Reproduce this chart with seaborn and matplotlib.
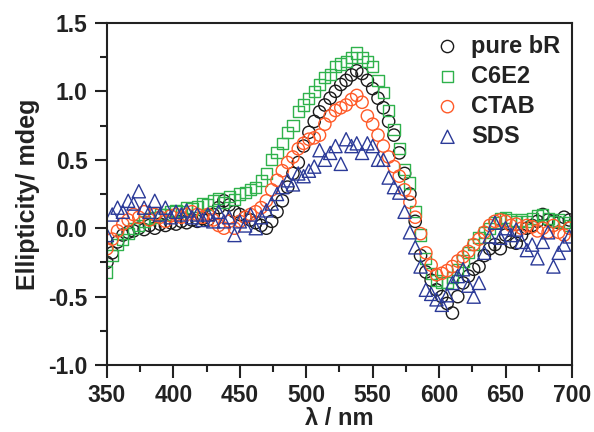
import matplotlib
matplotlib.use("Agg")
import matplotlib.pyplot as plt
import seaborn as sns
from matplotlib.ticker import MultipleLocator

# wavelength grid (nm), every 4 nm
wavelength = list(range(350, 701, 4))

pure_br = [-0.25, -0.18, -0.10, -0.05, -0.03, -0.02, 0.00, -0.01, 0.02, 0.00,
           0.03, 0.02, 0.04, 0.03, 0.05, 0.04, 0.06, 0.05, 0.07, 0.06,
           0.10, 0.15, 0.20, 0.17, 0.12, 0.10, 0.08, 0.06, 0.04, 0.02,
           0.00, 0.05, 0.12, 0.20, 0.30, 0.40, 0.48, 0.60, 0.70, 0.78,
           0.85, 0.90, 0.95, 1.00, 1.05, 1.08, 1.12, 1.15, 1.13, 1.08,
           1.02, 0.95, 0.88, 0.78, 0.68, 0.55, 0.40, 0.25, 0.05, -0.20,
           -0.32, -0.38, -0.45, -0.50, -0.55, -0.62, -0.50, -0.40, -0.35, -0.30,
           -0.28, -0.20, -0.15, -0.12, -0.15, -0.05, -0.10, -0.11, -0.05, 0.00,
           0.02, 0.05, 0.10, 0.06, 0.05, 0.04, 0.08, 0.06]

c6e2 = [-0.32, -0.20, -0.12, -0.08, -0.04, 0.00, 0.02, 0.05, 0.07, 0.08,
        0.10, 0.10, 0.12, 0.13, 0.12, 0.15, 0.14, 0.16, 0.18, 0.17,
        0.20, 0.22, 0.19, 0.23, 0.21, 0.25, 0.26, 0.28, 0.30, 0.35,
        0.40, 0.50, 0.55, 0.62, 0.70, 0.75, 0.85, 0.90, 0.95, 1.00,
        1.05, 1.10, 1.12, 1.18, 1.20, 1.22, 1.25, 1.28, 1.25, 1.22,
        1.18, 1.08, 0.99, 0.86, 0.72, 0.58, 0.43, 0.33, 0.12, -0.05,
        -0.22, -0.33, -0.38, -0.40, -0.40, -0.36, -0.30, -0.24, -0.18, -0.12,
        -0.07, -0.03, 0.00, 0.04, 0.07, 0.08, 0.06, 0.05, 0.06, 0.05,
        0.07, 0.09, 0.10, 0.07, 0.05, 0.06, 0.04, 0.02]

ctab = [-0.15, -0.08, -0.02, 0.03, 0.06, 0.10, 0.08, 0.12, 0.06, 0.10,
        0.08, 0.05, 0.09, 0.10, 0.08, 0.10, 0.12, 0.10, 0.08, 0.10,
        0.06, 0.02, 0.00, 0.05, 0.00, 0.05, 0.08, 0.10, 0.12, 0.15,
        0.20, 0.28, 0.35, 0.42, 0.48, 0.52, 0.58, 0.62, 0.65, 0.66,
        0.68, 0.76, 0.82, 0.86, 0.88, 0.90, 0.94, 0.97, 0.92, 0.82,
        0.76, 0.68, 0.60, 0.52, 0.45, 0.38, 0.28, 0.19, 0.08, -0.04,
        -0.18, -0.27, -0.34, -0.33, -0.31, -0.28, -0.24, -0.21, -0.17, -0.12,
        -0.08, -0.03, 0.02, 0.05, 0.06, 0.05, 0.02, 0.03, 0.00, 0.02,
        0.01, -0.02, 0.00, -0.03, 0.02, -0.03, -0.05, 0.00]

sds = [-0.05, 0.10, 0.15, 0.12, 0.20, 0.18, 0.27, 0.15, 0.12, 0.20,
       0.10, 0.15, 0.08, 0.12, 0.10, 0.13, 0.08, 0.10, 0.06, 0.10,
       0.05, 0.12, 0.05, 0.08, -0.05, 0.05, 0.02, 0.10, 0.00, 0.08,
       0.13, 0.18, 0.25, 0.30, 0.35, 0.32, 0.40, 0.38, 0.42, 0.45,
       0.57, 0.50, 0.55, 0.60, 0.47, 0.65, 0.60, 0.62, 0.55, 0.62,
       0.60, 0.50, 0.50, 0.37, 0.30, 0.26, 0.12, -0.03, -0.14, -0.28,
       -0.45, -0.48, -0.52, -0.56, -0.49, -0.40, -0.35, -0.30, -0.42, -0.50,
       -0.40, -0.18, -0.06, 0.04, -0.07, 0.00, -0.05, -0.01, -0.10, -0.16,
       -0.12, -0.22, -0.10, -0.03, -0.28, -0.18, -0.12, -0.06]

series = [
    ("pure bR", pure_br, "#1a1a1a", "o", 78),
    ("C6E2", c6e2, "#2fb24c", "s", 64),
    ("CTAB", ctab, "#ff5a28", "o", 78),
    ("SDS", sds, "#2b3a98", "^", 90),
]

sns.set_style("ticks")
plt.rcParams["font.family"] = ["Liberation Sans", "DejaVu Sans"]
plt.rcParams["font.weight"] = "bold"

fig, ax = plt.subplots(figsize=(5.94, 4.32), dpi=100)
fig.subplots_adjust(left=0.18, right=0.963, top=0.947, bottom=0.155)

for name, vals, col, mk, size in series:
    sns.scatterplot(x=wavelength, y=vals, ax=ax, marker=mk, s=size,
                    facecolor="none", edgecolor=col, linewidth=1.0,
                    label=name)

ax.set_xlim(350, 700)
ax.set_ylim(-1.0, 1.5)
ax.xaxis.set_major_locator(MultipleLocator(50))
ax.xaxis.set_minor_locator(MultipleLocator(25))
ax.yaxis.set_major_locator(MultipleLocator(0.5))
ax.yaxis.set_minor_locator(MultipleLocator(0.25))
ax.yaxis.set_major_formatter(matplotlib.ticker.FormatStrFormatter("%.1f"))

for sp in ax.spines.values():
    sp.set_linewidth(1.5)
    sp.set_color("#222222")
ax.tick_params(which="major", direction="out", length=9, width=1.5,
               labelsize=16.5, colors="#222222", pad=5)
ax.tick_params(which="minor", direction="out", length=5, width=1.5,
               colors="#222222")

ax.set_xlabel("λ / nm", fontsize=17, fontweight="bold", labelpad=0,
              color="#222222")
ax.set_ylabel("Ellipticity/ mdeg", fontsize=18, fontweight="bold",
              labelpad=6, color="#222222")

leg = ax.legend(loc="upper right", frameon=False, fontsize=17,
                handletextpad=0.3, labelspacing=0.3, borderaxespad=0.1,
                handlelength=1.4)
for t in leg.get_texts():
    t.set_fontweight("bold")
    t.set_color("#222222")

fig.savefig("out.png", dpi=100)
